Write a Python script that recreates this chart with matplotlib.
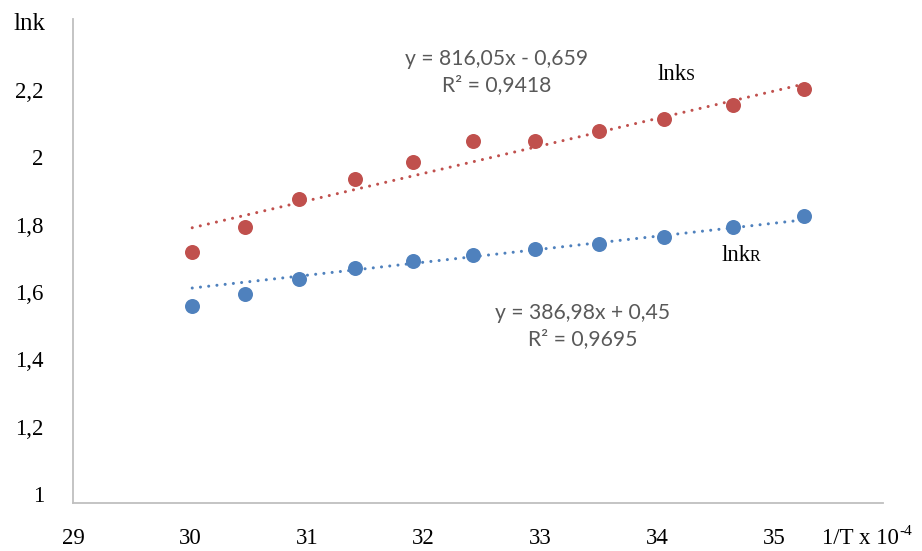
import numpy as np
import matplotlib
matplotlib.use("Agg")
import matplotlib.pyplot as plt

# 1/T x 10^-4 values and lnk values
inv_t = [30.02, 30.47, 30.93, 31.41, 31.91, 32.42, 32.95, 33.50, 34.06, 34.65, 35.25]
lnk_s = [1.720, 1.792, 1.876, 1.936, 1.985, 2.049, 2.049, 2.079, 2.115, 2.156, 2.202]
lnk_r = [1.559, 1.594, 1.638, 1.670, 1.691, 1.709, 1.727, 1.742, 1.763, 1.792, 1.827]

# trendlines as printed on the chart (x in 1/T)
slope_s, icpt_s = 816.05, -0.659
slope_r, icpt_r = 386.98, 0.45

x_ticks = [29, 30, 31, 32, 33, 34, 35]
y_ticks = [1, 1.2, 1.4, 1.6, 1.8, 2, 2.2]
y_tick_labels = ["1", "1,2", "1,4", "1,6", "1,8", "2", "2,2"]

eq_s = "y = 816,05x - 0,659\nR² = 0,9418"
eq_r = "y = 386,98x + 0,45\nR² = 0,9695"

red = "#C0504D"
blue = "#4F81BD"
serif = "Liberation Serif"
fs = 16.5

W, H = 922, 551
fig = plt.figure(figsize=(W / 100, H / 100), dpi=100)
ax = fig.add_axes([73 / W, 1 - 503 / H, (883 - 73) / W, (503 - 19) / H])

x = np.array(inv_t)
xs = np.array([x[0], x[-1]])
for y, c, k, b in [(lnk_s, red, slope_s, icpt_s), (lnk_r, blue, slope_r, icpt_r)]:
    ax.plot(x, y, 'o', color=c, markersize=10.8, markeredgewidth=0, zorder=2)
    ax.plot(xs, k * xs * 1e-4 + b, color=c, lw=2.2, linestyle=(0, (0.01, 2.7)),
            dash_capstyle='round', zorder=3)

ax.set_xlim(29.0, 35.93)
ax.set_ylim(0.973, 2.411)
ax.set_xticks(x_ticks)
ax.set_xticklabels([str(v) for v in x_ticks])
ax.set_yticks(y_ticks)
ax.set_yticklabels(y_tick_labels)
ax.tick_params(length=0, labelsize=fs, colors="#000000")
ax.tick_params(axis='x', pad=18)
ax.tick_params(axis='y', pad=21)
for lab in ax.get_xticklabels() + ax.get_yticklabels():
    lab.set_fontfamily(serif)

for s in ['top', 'right']:
    ax.spines[s].set_visible(False)
for s in ['left', 'bottom']:
    ax.spines[s].set_color("#BFBFBF")
    ax.spines[s].set_linewidth(1.3)


def px(xp, yp):
    return xp / W, 1 - yp / H


fig.text(*px(13, 30), "lnk", family=serif, fontsize=18, va='baseline', ha='left')

fig.text(*px(822, 544), "1/T x 10", family=serif, fontsize=fs, va='baseline', ha='left')
fig.text(*px(899, 535), "-4", family=serif, fontsize=11, va='baseline', ha='left')

fig.text(*px(658, 80), "lnk", family=serif, fontsize=fs, va='baseline', ha='left')
fig.text(*px(686, 80), "S", family=serif, fontsize=11.5, va='baseline', ha='left')
fig.text(*px(722, 261), "lnk", family=serif, fontsize=fs, va='baseline', ha='left')
fig.text(*px(750, 261), "R", family=serif, fontsize=11.5, va='baseline', ha='left')

fig.text(*px(497, 72.5), eq_s, family="Lato", fontsize=15.2, color="#595959",
         ha='center', va='center', linespacing=1.38)
fig.text(*px(583, 326), eq_r, family="Lato", fontsize=15.2, color="#595959",
         ha='center', va='center', linespacing=1.38)

fig.savefig("out.png", dpi=100)
